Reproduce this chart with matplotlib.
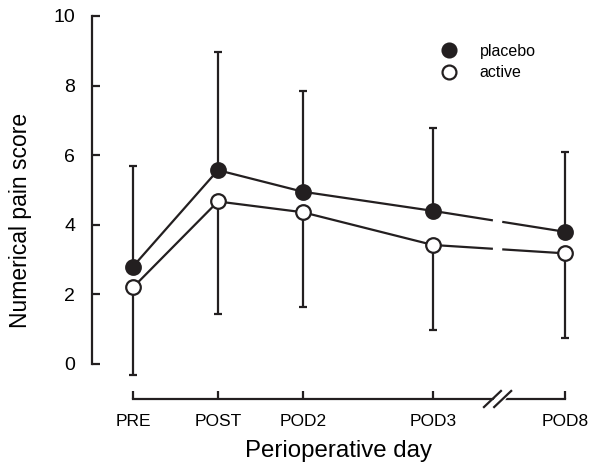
import numpy as np
import matplotlib.pyplot as plt
from matplotlib.lines import Line2D
import matplotlib.transforms as mtransforms

plt.rcParams['font.family'] = ['Liberation Sans', 'DejaVu Sans']

# data
days = ['PRE', 'POST', 'POD2', 'POD3', 'POD8']
day_pos = [0, 1, 2, 3.53, 5.08]          # axis has a break between POD3 and POD8
placebo = [2.8, 5.57, 4.95, 4.4, 3.8]
placebo_upper = [5.7, 8.97, 7.85, 6.78, 6.08]
active = [2.2, 4.67, 4.36, 3.42, 3.18]
active_lower = [-0.32, 1.43, 1.65, 0.98, 0.76]

brk = 4.29      # where the x axis is broken
gap = 0.055

col = '#231f20'
lw = 1.6

fig = plt.figure(figsize=(5.91, 4.72), dpi=100)
ax = fig.add_axes([92/591, 73/472, 488/591, 383/472])

x = np.array(day_pos)

def draw_series(y, face, z):
    y = np.array(y)
    # full line up to POD3, then split at the axis break
    ax.plot(x[:4], y[:4], color=col, lw=lw, zorder=z, solid_capstyle='butt')
    y_lo = np.interp(brk - gap, x, y)
    y_hi = np.interp(brk + gap, x, y)
    ax.plot([x[3], brk - gap], [y[3], y_lo], color=col, lw=lw, zorder=z, solid_capstyle='butt')
    ax.plot([brk + gap, x[4]], [y_hi, y[4]], color=col, lw=lw, zorder=z, solid_capstyle='butt')
    ax.plot(x, y, ls='none', marker='o', ms=10.5, mfc=face, mec=col, mew=1.6, zorder=z + 1)

# error bars: placebo up, active down
pl = np.array(placebo)
ac = np.array(active)
ax.errorbar(x, pl, yerr=[np.zeros(5), np.array(placebo_upper) - pl], fmt='none',
            ecolor=col, elinewidth=lw, capsize=3, capthick=1.6, zorder=2, clip_on=False)
ax.errorbar(x, ac, yerr=[ac - np.array(active_lower), np.zeros(5)], fmt='none',
            ecolor=col, elinewidth=lw, capsize=3, capthick=1.6, zorder=2, clip_on=False)

draw_series(placebo, col, 4)
draw_series(active, 'white', 4)

ax.set_xlim(-0.482, 5.26)
ax.set_ylim(-1.006, 10)

for s in ['top', 'right']:
    ax.spines[s].set_visible(False)
ax.spines['left'].set_bounds(0, 10)
ax.spines['bottom'].set_bounds(0, day_pos[-1])
for s in ['left', 'bottom']:
    ax.spines[s].set_linewidth(1.6)
    ax.spines[s].set_color(col)

ax.set_yticks([0, 2, 4, 6, 8, 10])
ax.set_xticks(day_pos)
ax.set_xticklabels(days)
ax.tick_params(axis='both', direction='in', length=6, width=1.6, color=col)
ax.tick_params(axis='y', labelsize=14, pad=12)
ax.tick_params(axis='x', labelsize=12.5, pad=11)

ax.set_ylabel('Numerical pain score', fontsize=16.5)
ax.set_xlabel('Perioperative day', fontsize=17.3)
ax.yaxis.set_label_coords(-0.123, 0.467)
ax.xaxis.set_label_coords(0.505, -0.108)

# axis break marks
trans = mtransforms.blended_transform_factory(ax.transData, ax.transAxes)
ax.fill([brk - 0.09, brk + 0.03, brk + 0.15, brk + 0.03], [-0.02, -0.02, 0.02, 0.02],
        color='white', transform=trans, clip_on=False, zorder=5)
for dx in [-0.06, 0.06]:
    ax.plot([brk + dx - 0.1, brk + dx + 0.1], [-0.021, 0.021], color=col, lw=1.6,
            transform=trans, clip_on=False, zorder=6)

handles = [Line2D([], [], ls='none', marker='o', ms=10, mfc=col, mec=col, mew=1.6),
           Line2D([], [], ls='none', marker='o', ms=10, mfc='white', mec=col, mew=1.6)]
ax.legend(handles, ['placebo', 'active'], loc='upper left', bbox_to_anchor=(0.67, 0.965),
          frameon=False, fontsize=11.5, handletextpad=0.9, labelspacing=0.4)

fig.savefig('out.png', dpi=100)
